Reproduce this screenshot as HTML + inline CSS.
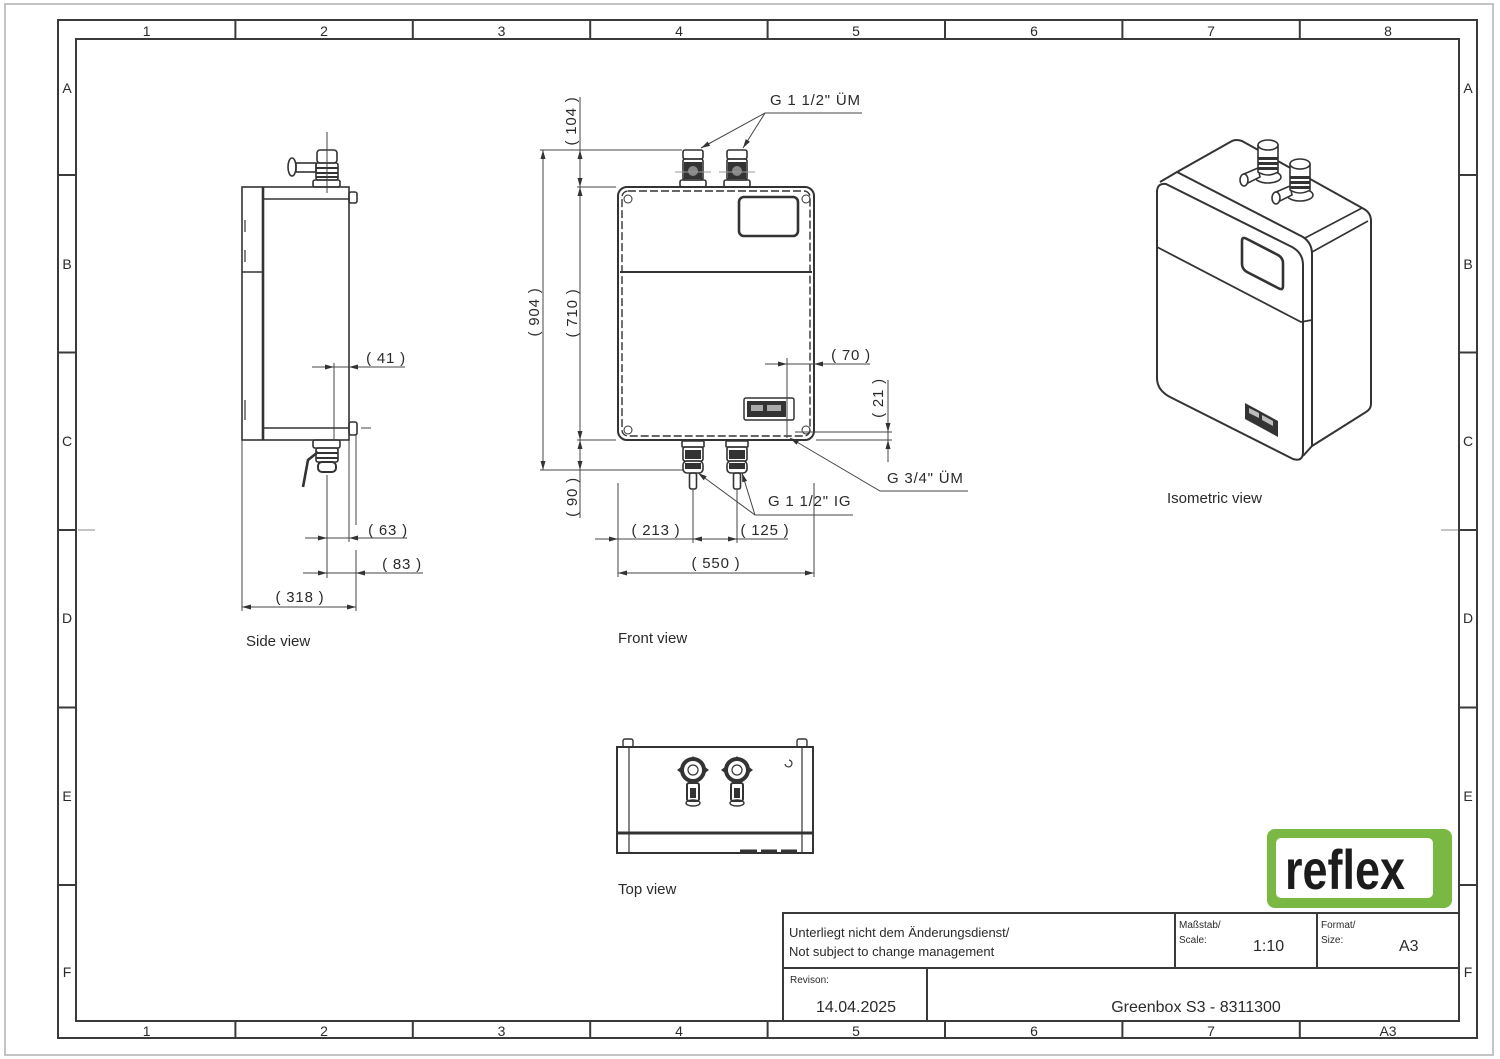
<!DOCTYPE html>
<html><head><meta charset="utf-8"><style>
html,body{margin:0;padding:0;background:#fff;}
svg{display:block;}
text{font-family:"Liberation Sans",sans-serif;fill:#2a2a2a;}
.d{font-size:15px;letter-spacing:0.8px;}
.lab{font-size:15px;}
.fr{font-size:14px;}
</style></head><body>
<svg width="1500" height="1059" viewBox="0 0 1500 1059" xmlns="http://www.w3.org/2000/svg">
<rect x="0" y="0" width="1500" height="1059" fill="#fff"/>
<!-- paper border -->
<rect x="5" y="4" width="1488" height="1051" fill="none" stroke="#c4c4c4" stroke-width="2"/>
<!-- frame -->
<g fill="none" stroke="#3a3a3a" stroke-width="2">
<rect x="58" y="20" width="1419" height="1018"/>
<rect x="76" y="39" width="1383" height="982"/>
<path d="M235.4 20V39M412.8 20V39M590.2 20V39M767.6 20V39M945 20V39M1122.4 20V39M1299.8 20V39
M235.4 1021V1038M412.8 1021V1038M590.2 1021V1038M767.6 1021V1038M945 1021V1038M1122.4 1021V1038M1299.8 1021V1038
M58 175H76M58 352.5H76M58 530H76M58 707.5H76M58 885H76
M1459 175H1477M1459 352.5H1477M1459 530H1477M1459 707.5H1477M1459 885H1477"/>
</g>
<path d="M78 530H95M1441 530H1458" stroke="#888" stroke-width="1"/>
<g class="fr" text-anchor="middle">
<text x="146.7" y="36">1</text><text x="324" y="36">2</text><text x="501.5" y="36">3</text><text x="679" y="36">4</text>
<text x="856" y="36">5</text><text x="1034" y="36">6</text><text x="1211" y="36">7</text><text x="1388" y="36">8</text>
<text x="146.7" y="1036">1</text><text x="324" y="1036">2</text><text x="501.5" y="1036">3</text><text x="679" y="1036">4</text>
<text x="856" y="1036">5</text><text x="1034" y="1036">6</text><text x="1211" y="1036">7</text><text x="1388" y="1036">A3</text>
<text x="67" y="93">A</text><text x="67" y="269">B</text><text x="67" y="446">C</text><text x="67" y="623">D</text><text x="67" y="801">E</text><text x="67" y="977">F</text>
<text x="1468" y="93">A</text><text x="1468" y="269">B</text><text x="1468" y="446">C</text><text x="1468" y="623">D</text><text x="1468" y="801">E</text><text x="1468" y="977">F</text>
</g>

<!-- ================= SIDE VIEW ================= -->
<g fill="none" stroke="#333" stroke-width="1.6">
<rect x="242" y="187" width="107" height="253"/>
<line x1="263" y1="187" x2="263" y2="440" stroke-width="2.6"/>
<line x1="263" y1="199" x2="349" y2="199"/>
<line x1="263" y1="428" x2="349" y2="428"/>
<line x1="242" y1="272" x2="263" y2="272"/>
<rect x="349" y="192" width="8" height="11" rx="2"/>
<rect x="349" y="422" width="8" height="13" rx="2"/>
<path d="M245 220V232M245 250V262M245 400V420" stroke-width="1.2"/>
<!-- top fitting -->
<rect x="313" y="180" width="27" height="7" rx="2"/>
<rect x="316" y="163" width="22" height="17" rx="2"/>
<rect x="317" y="150" width="20" height="13" rx="3"/>
<path d="M316 168H338M316 173H338M316 177H338" stroke-width="2"/>
<rect x="296" y="163" width="20" height="9"/>
<ellipse cx="292" cy="167" rx="4" ry="9"/>
<!-- bottom fitting -->
<rect x="313" y="440" width="27" height="8" rx="2"/>
<rect x="316" y="448" width="22" height="14" rx="2"/>
<path d="M316 453H338M316 458H338" stroke-width="2"/>
<rect x="318" y="462" width="18" height="10" rx="4" stroke-width="2"/>
<path d="M318 452 L308 460 L303 487" stroke-width="2.6"/>
</g>
<g stroke="#444" stroke-width="1" fill="none">
<path d="M327 132V193M327 475V578M334 363V440M349 440V542M356 435V525M356 550V611M242 440V611M361 428H371"/>
<path d="M312 367H405M305 538H407M303 573H423M242 607H356"/>
</g>
<g fill="#333">
<polygon points="334,367 325,364.5 325,369.5"/><polygon points="349,367 358,364.5 358,369.5"/>
<polygon points="327,538 318,535.5 318,540.5"/><polygon points="349,538 358,535.5 358,540.5"/>
<polygon points="327,573 318,570.5 318,575.5"/><polygon points="356,573 365,570.5 365,575.5"/>
<polygon points="242,607 251,604.5 251,609.5"/><polygon points="356,607 347,604.5 347,609.5"/>
</g>
<g class="d" text-anchor="middle">
<text x="386" y="363">( 41 )</text>
<text x="388" y="535">( 63 )</text>
<text x="402" y="569">( 83 )</text>
<text x="300" y="602">( 318 )</text>
</g>
<text class="lab" x="246" y="646">Side view</text>

<!-- ================= FRONT VIEW ================= -->
<g fill="none" stroke="#333" stroke-width="2">
<rect x="618" y="187" width="196" height="253" rx="9"/>
<rect x="622" y="191" width="188" height="245" rx="6" stroke-width="1.4" stroke-dasharray="8 3"/>
<line x1="620" y1="272" x2="812" y2="272"/>
<rect x="739" y="197" width="59" height="39" rx="5" stroke-width="2.6"/>
<g stroke-width="1"><circle cx="628" cy="199" r="4"/><circle cx="806" cy="199" r="4"/><circle cx="628" cy="430" r="4"/><circle cx="806" cy="430" r="4"/></g>
<rect x="744" y="398" width="50" height="22" rx="2" stroke-width="1.5"/>
</g>
<rect x="747" y="401" width="39" height="16" fill="#333"/>
<rect x="751" y="405" width="12" height="6" fill="#aaa"/><rect x="767" y="405" width="14" height="6" fill="#aaa"/>
<!-- top fittings -->
<g fill="none" stroke="#333" stroke-width="1.6">
<rect x="683" y="150" width="20" height="9" rx="2"/><rect x="683" y="159" width="20" height="21" rx="2"/><rect x="680" y="180" width="26" height="7" rx="2"/>
<rect x="727" y="150" width="20" height="9" rx="2"/><rect x="727" y="159" width="20" height="21" rx="2"/><rect x="724" y="180" width="26" height="7" rx="2"/>
<rect x="682" y="441" width="22" height="6" rx="1"/><rect x="683" y="447" width="20" height="14" rx="2"/><rect x="683" y="461" width="20" height="12" rx="4"/><rect x="689.5" y="473" width="7" height="16" rx="2"/>
<rect x="726" y="441" width="22" height="6" rx="1"/><rect x="727" y="447" width="20" height="14" rx="2"/><rect x="727" y="461" width="20" height="12" rx="4"/><rect x="733.5" y="473" width="7" height="16" rx="2"/>
</g>
<g fill="#333">
<rect x="684" y="162" width="18" height="17"/><rect x="728" y="162" width="18" height="17"/>
<rect x="685" y="450" width="16" height="9"/><rect x="729" y="450" width="16" height="9"/>
<rect x="685" y="463" width="16" height="6"/><rect x="729" y="463" width="16" height="6"/>
</g>
<circle cx="693" cy="171" r="5" fill="#888"/><circle cx="737" cy="171" r="5" fill="#888"/>
<path d="M675 172H711M719 172H755" stroke="#999" stroke-width="1"/>
<!-- front dimensions -->
<g stroke="#444" stroke-width="1" fill="none">
<path d="M540 150H682M577 187H616M577 440H616M540 470H683"/>
<path d="M543 150V470M580 97V518"/>
<path d="M765 364H870M787 358V438"/>
<path d="M888 380V462M795 432H892M816 440H892"/>
<path d="M790 438L880 491H968"/>
<path d="M862 113H765L701 148M765 113L743 148"/>
<path d="M853 515H755L698 473M755 515L742 473"/>
<path d="M595 539H788M693 489V543M737 489V543M618 483V577M814 483V577M618 573H814"/>
</g>
<g fill="#333">
<polygon points="543,150 540.5,159 545.5,159"/><polygon points="543,470 540.5,461 545.5,461"/>
<polygon points="580,150 577.5,159 582.5,159"/><polygon points="580,187 577.5,178 582.5,178"/>
<polygon points="580,187 577.5,196 582.5,196"/><polygon points="580,440 577.5,431 582.5,431"/>
<polygon points="580,440 577.5,449 582.5,449"/><polygon points="580,470 577.5,461 582.5,461"/>
<polygon points="787,364 778,361.5 778,366.5"/><polygon points="814,364 823,361.5 823,366.5"/>
<polygon points="888,432 885.5,423 890.5,423"/><polygon points="888,440 885.5,449 890.5,449"/>
<polygon points="618,539 609,536.5 609,541.5"/><polygon points="693,539 702,536.5 702,541.5"/><polygon points="737,539 728,536.5 728,541.5"/>
<polygon points="618,573 627,570.5 627,575.5"/><polygon points="814,573 805,570.5 805,575.5"/>
<polygon points="701,148 707.7,141.5 710.1,145.9"/><polygon points="743,148 745.7,139.1 749.9,141.7"/>
<polygon points="698,473 706.7,476.3 703.7,480.3"/><polygon points="742,473 747.1,480.9 742.3,482.3"/>
<polygon points="790,438 799.1,440.4 796.5,444.8"/>
</g>
<g class="d" text-anchor="middle">
<text transform="translate(576,121) rotate(-90)">( 104 )</text>
<text transform="translate(539,312) rotate(-90)">( 904 )</text>
<text transform="translate(577,313) rotate(-90)">( 710 )</text>
<text transform="translate(577,497) rotate(-90)">( 90 )</text>
<text transform="translate(883,398) rotate(-90)">( 21 )</text>
<text x="851" y="360">( 70 )</text>
<text x="656" y="535">( 213 )</text>
<text x="765" y="535">( 125 )</text>
<text x="716" y="568">( 550 )</text>
</g>
<g class="d">
<text x="770" y="105">G 1 1/2" ÜM</text>
<text x="768" y="506">G 1 1/2" IG</text>
<text x="887" y="483">G 3/4" ÜM</text>
</g>
<text class="lab" x="618" y="643">Front view</text>

<!-- ================= TOP VIEW ================= -->
<g fill="none" stroke="#333" stroke-width="2">
<rect x="617" y="747" width="196" height="106"/>
<line x1="617" y1="833" x2="813" y2="833" stroke-width="3"/>
<path d="M629 747V853M802 747V853" stroke-width="1.2"/>
<rect x="623" y="739" width="10" height="8" rx="2" stroke-width="1.4"/>
<rect x="797" y="739" width="10" height="8" rx="2" stroke-width="1.4"/>
<circle cx="693" cy="770" r="11" stroke-width="4"/><circle cx="693" cy="770" r="5" stroke-width="1.2"/>
<circle cx="737" cy="770" r="11" stroke-width="4"/><circle cx="737" cy="770" r="5" stroke-width="1.2"/>
<rect x="687" y="783" width="12" height="18" rx="2"/><rect x="731" y="783" width="12" height="18" rx="2"/>
<ellipse cx="693" cy="803" rx="7" ry="3" stroke-width="1.4"/><ellipse cx="737" cy="803" rx="7" ry="3" stroke-width="1.4"/>
<path d="M789 760 A3.5 3.5 0 1 1 785 764" stroke-width="1.2"/>
</g>
<g fill="#333">
<polygon points="677,770 681,767 681,773"/><polygon points="709,770 705,767 705,773"/><polygon points="693,756 690,760 696,760"/>
<polygon points="721,770 725,767 725,773"/><polygon points="753,770 749,767 749,773"/><polygon points="737,756 734,760 740,760"/>
<rect x="690" y="788" width="6" height="10"/><rect x="734" y="788" width="6" height="10"/>
</g>
<path d="M740 851H757M761 851H777M781 851H797" stroke="#333" stroke-width="3"/>
<text class="lab" x="618" y="894">Top view</text>

<!-- ================= ISOMETRIC ================= -->
<g fill="none" stroke="#333" stroke-width="2" stroke-linejoin="round">
<!-- top face -->
<path d="M1160 182 L1177 172 L1232 141 Q1236 139 1242 141 L1364 209 Q1371 213 1371 221 L1371 404 Q1371 409 1366 412 L1312 446"/>
<!-- cover outline -->
<path d="M1177 172 L1303 237 Q1312 243 1312 254 L1312 446 L1303 456"/>
<!-- front face -->
<path d="M1157 192 Q1157 183 1166 184 L1292 247 Q1303 253 1303 265 L1303 452 Q1303 462 1293 459 L1172 398 Q1157 391 1157 378 Z"/>
<path d="M1157 247 L1301 322 L1312 320" stroke-width="1.8"/>
<path d="M1305 238 L1362 208 M1312 252 L1368 221" stroke-width="1.6"/>
<path d="M1242 241 Q1242 236 1247 239 L1278 255 Q1283 258 1283 263 L1283 286 Q1283 291 1278 288 L1247 272 Q1242 269 1242 264 Z" stroke-width="2.6"/>
</g>
<!-- fittings -->
<g stroke="#333" stroke-width="1.6">
<ellipse cx="1268" cy="177" rx="13" ry="6" fill="#fff"/>
<path d="M1258 168 L1244 174 L1246 184 L1260 177 Z" fill="#fff"/>
<ellipse cx="1244" cy="180" rx="4" ry="6" fill="#fff"/>
<path d="M1258 145 V172 Q1268 178 1278 172 V145" fill="#fff"/>
<ellipse cx="1268" cy="145" rx="10" ry="5" fill="#fff"/>
<ellipse cx="1300" cy="195" rx="13" ry="6" fill="#fff"/>
<path d="M1290 186 L1276 192 L1278 202 L1292 195 Z" fill="#fff"/>
<ellipse cx="1276" cy="198" rx="4" ry="6" fill="#fff"/>
<path d="M1290 164 V190 Q1300 196 1310 190 V164" fill="#fff"/>
<ellipse cx="1300" cy="164" rx="10" ry="5" fill="#fff"/>
</g>
<g fill="#333">
<rect x="1258" y="157" width="20" height="3"/><rect x="1258" y="162" width="20" height="3"/><rect x="1258" y="167" width="20" height="3"/>
<rect x="1290" y="176" width="20" height="3"/><rect x="1290" y="181" width="20" height="3"/><rect x="1290" y="186" width="20" height="3"/>
<polygon points="1245,403 1278,421 1278,437 1245,419"/>
</g>
<polygon points="1249,408 1259,413 1259,418 1249,413" fill="#bbb"/>
<polygon points="1262,415 1273,421 1273,426 1262,420" fill="#bbb"/>
<text class="lab" x="1167" y="503">Isometric view</text>

<!-- ================= LOGO ================= -->
<rect x="1267" y="829" width="185" height="79" rx="8" fill="#78b843"/>
<rect x="1276" y="838" width="157" height="60" rx="5" fill="#fff"/>
<text x="1285" y="889" font-size="56" font-weight="bold" textLength="120" lengthAdjust="spacingAndGlyphs" style="fill:#1c1c1c;font-family:'Liberation Sans',sans-serif;">reflex</text>

<!-- ================= TITLE BLOCK ================= -->
<g fill="none" stroke="#3a3a3a" stroke-width="2">
<rect x="783" y="913" width="676" height="108"/>
<path d="M783 968H1459M1175 913V968M1317 913V968M927 968V1021"/>
</g>
<g>
<text x="789" y="937" font-size="13">Unterliegt nicht dem Änderungsdienst/</text>
<text x="789" y="956" font-size="13">Not subject to change management</text>
<text x="1179" y="928" font-size="10">Maßstab/</text>
<text x="1179" y="943" font-size="10">Scale:</text>
<text x="1253" y="951" font-size="16">1:10</text>
<text x="1321" y="928" font-size="10">Format/</text>
<text x="1321" y="943" font-size="10">Size:</text>
<text x="1399" y="951" font-size="16">A3</text>
<text x="790" y="983" font-size="10">Revison:</text>
<text x="856" y="1012" font-size="16" text-anchor="middle">14.04.2025</text>
<text x="1196" y="1012" font-size="16" text-anchor="middle">Greenbox S3 - 8311300</text>
</g>
</svg>
</body></html>
